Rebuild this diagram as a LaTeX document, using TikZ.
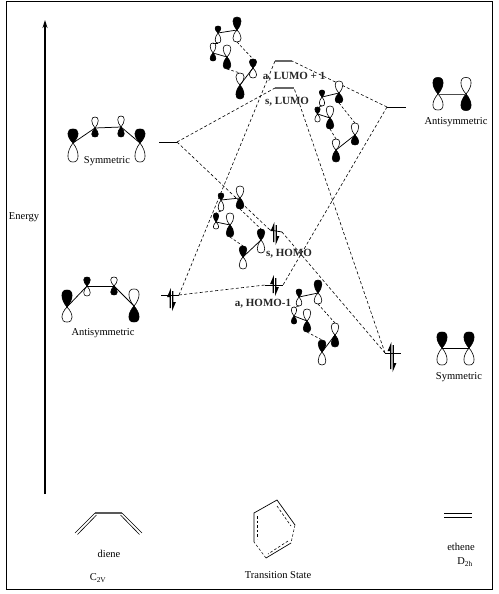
\documentclass[tikz,border=0pt]{standalone}
\usepackage{fontspec}
\usetikzlibrary{arrows.meta}
\setmainfont{Liberation Serif}
\tikzset{
  lab/.style={font=\fontsize{10.5}{12}\selectfont,inner sep=0pt},
  blab/.style={font=\fontsize{11}{12}\selectfont\bfseries,inner sep=0pt,text=black!85},
  bond/.style={line width=0.75pt},
  dbond/.style={line width=0.6pt,dash pattern=on 2.6pt off 2pt},
  level/.style={line width=0.8pt},
  tslevel/.style={line width=1.2pt,black!60},
  conn/.style={line width=0.6pt,dash pattern=on 3pt off 2.2pt},
  lobeline/.style={line width=0.6pt}
}
% name, x, y, height up, height down, half width, colour up, colour down
\newcommand{\orbpair}[8]{%
  \coordinate (#1) at (#2,#3);
  \coordinate (#1u) at (#2,{#3-#4});
  \coordinate (#1d) at (#2,{#3+#5});
  \filldraw[lobeline,fill=#7] (#1) .. controls ({#2-1.35*#6},{#3-0.45*#4}) and ({#2-1.35*#6},{#3-1.03*#4}) .. (#1u)
     .. controls ({#2+1.35*#6},{#3-1.03*#4}) and ({#2+1.35*#6},{#3-0.45*#4}) .. (#1) -- cycle;
  \filldraw[lobeline,fill=#8] (#1) .. controls ({#2-1.35*#6},{#3+0.45*#5}) and ({#2-1.35*#6},{#3+1.03*#5}) .. (#1d)
     .. controls ({#2+1.35*#6},{#3+1.03*#5}) and ({#2+1.35*#6},{#3+0.45*#5}) .. (#1) -- cycle;
}
% electron pair: x, top, bottom
\newcommand{\elecpair}[3]{%
  \fill ({#1-0.6},#2) -- ({#1-0.6},{#3-3}) -- ({#1-1.8},{#3-3}) -- ({#1-1.8},{#2+9}) -- ({#1-4.4},{#2+9}) -- cycle;
  \fill ({#1+0.6},#3) -- ({#1+0.6},{#2+3}) -- ({#1+1.8},{#2+3}) -- ({#1+1.8},{#3-9}) -- ({#1+4.4},{#3-9}) -- cycle;
}
\begin{document}
\begin{tikzpicture}[x=1pt,y=-1pt]
\useasboundingbox (0,0) rectangle (498,594);
\draw[line width=0.9pt] (6,1.5) rectangle (492.5,589);
% energy axis
\coordinate (axb) at (45,494);
\coordinate (axt) at (45,20);
\draw[line width=1.1pt,-{Stealth[length=8pt,width=5pt]}] (axb) -- (axt);
\node[lab] (energy) at (24,217) {Energy};

% connectors: energy levels
\coordinate (dl1) at (159,142); \coordinate (dl2) at (177,142);
\coordinate (dh1) at (161,295); \coordinate (dh2) at (179,295);
\coordinate (el1) at (387,107); \coordinate (el2) at (406,107);
\coordinate (eh1) at (385,353); \coordinate (eh2) at (401,353);
\coordinate (lp1) at (275,61);  \coordinate (lp2) at (292,61);
\coordinate (lu1) at (275,88);  \coordinate (lu2) at (294,88);
\coordinate (ho1) at (270,230); \coordinate (ho2) at (282,232);
\coordinate (hm1) at (265,285); \coordinate (hm2) at (283,285);
\draw[level] (dl1) -- (dl2);
\draw[level] (dh1) -- (dh2);
\draw[level] (el1) -- (el2);
\draw[level] (eh1) -- (eh2);
\draw[tslevel] (lp1) -- (lp2);
\draw[tslevel] (lu1) -- (lu2);
\draw[level] (ho1) -- (ho2);
\draw[level] (hm1) -- (hm2);
\draw[conn] (dl2) -- (lu1);
\draw[conn] (dl2) -- (ho1);
\draw[conn] (dh2) -- (hm1);
\draw[conn] (dh2) -- (lp1);
\draw[conn] (el1) -- (lp2);
\draw[conn] (el1) -- (hm2);
\draw[conn] (eh1) -- (lu2);
\draw[conn] (eh1) -- (ho2);
\elecpair{171.5}{288}{311}
\elecpair{275}{222}{245}
\elecpair{274.5}{275}{296}
\elecpair{392}{342}{372}

% diene symmetric
\orbpair{a1}{73}{143}{14}{19}{5}{black}{white}
\orbpair{a2}{95}{128}{11}{9}{3.2}{white}{black}
\orbpair{a3}{121}{127}{11}{10}{3.2}{white}{black}
\orbpair{a4}{140}{143}{14}{19}{5}{black}{white}
\draw[bond] (a1) -- (a2); \draw[bond] (a2) -- (a3); \draw[bond] (a3) -- (a4);
\node[lab] (l1) at (107,161) {Symmetric};
% diene antisymmetric
\orbpair{b1}{67}{307}{17}{15}{5}{black}{white}
\orbpair{b2}{87}{286}{9}{10}{3.2}{black}{white}
\orbpair{b3}{114}{286}{9}{9}{3.2}{white}{black}
\orbpair{b4}{134}{306}{17}{16}{5}{white}{black}
\draw[bond] (b1) -- (b2); \draw[bond] (b2) -- (b3); \draw[bond] (b3) -- (b4);
\node[lab] (l2) at (103,333) {Antisymmetric};
% ethene
\orbpair{c1}{438}{94}{16.5}{16}{5}{black}{white}
\orbpair{c2}{466}{94}{16.5}{16.5}{5}{white}{black}
\draw[bond,black!70] (c1) -- (c2);
\node[lab] (l3) at (456,122) {Antisymmetric};
\orbpair{d1}{442}{348}{16}{17}{5}{black}{white}
\orbpair{d2}{469}{348}{16}{17}{5}{black}{white}
\draw[bond] (d1) -- (d2);
\node[lab] (l4) at (459,377) {Symmetric};

% TS LUMO+1
\orbpair{e1}{237}{30}{13}{12}{4}{black}{white}
\orbpair{e2}{218}{33}{7}{10}{2.8}{black}{white}
\orbpair{e3}{213}{53}{10}{8}{2.8}{white}{black}
\orbpair{e4}{227}{57}{12}{12}{3.8}{white}{black}
\orbpair{e5}{253}{68}{9}{10}{3.5}{black}{white}
\orbpair{e6}{240}{85}{12}{14}{4}{white}{black}
\draw[bond] (e2) -- (e1); \draw[bond] (e3) -- (e4); \draw[bond] (e6) -- (e5);
\draw[dbond] (e1d) -- (e5u); \draw[dbond] (e4d) -- (e6u); \draw[dbond] (e2d) -- (e3u);
% TS LUMO
\orbpair{f1}{339}{93}{12}{10}{3.8}{white}{black}
\orbpair{f2}{322}{97}{7}{9}{2.6}{black}{white}
\orbpair{f3}{317.5}{114}{7}{8}{2.6}{black}{white}
\orbpair{f4}{330}{118}{12}{11}{3.7}{white}{black}
\orbpair{f5}{355}{135}{12}{10}{3.7}{white}{black}
\orbpair{f6}{336}{150}{11}{12}{3.7}{white}{black}
\draw[bond] (f2) -- (f1); \draw[bond] (f3) -- (f4); \draw[bond] (f6) -- (f5);
\draw[dbond] (f1d) -- (f5u); \draw[dbond] (f4d) -- (f6u); \draw[dbond] (f2d) -- (f3u);
% TS HOMO
\orbpair{g1}{240}{198}{12}{11}{3.8}{white}{black}
\orbpair{g2}{221}{200}{7}{11}{2.8}{black}{white}
\orbpair{g3}{216}{222}{9}{7}{2.6}{black}{white}
\orbpair{g4}{230}{225}{12}{12}{3.7}{white}{black}
\orbpair{g5}{261}{240}{11}{13}{3.7}{black}{white}
\orbpair{g6}{243}{257}{11}{12}{3.7}{black}{white}
\draw[bond] (g2) -- (g1); \draw[bond] (g3) -- (g4); \draw[bond] (g6) -- (g5);
\draw[dbond] (g1d) -- (g5u); \draw[dbond] (g4d) -- (g6u); \draw[dbond] (g2d) -- (g3u);
% TS HOMO-1
\orbpair{h1}{318}{293}{13}{11}{3.8}{black}{white}
\orbpair{h2}{299}{297}{8}{9}{2.8}{black}{white}
\orbpair{h3}{294}{316}{9}{8}{2.6}{white}{black}
\orbpair{h4}{307}{321}{12}{11}{3.7}{white}{black}
\orbpair{h5}{335}{335}{12}{12}{3.7}{white}{black}
\orbpair{h6}{322}{352}{12}{13}{3.8}{black}{white}
\draw[bond] (h2) -- (h1); \draw[bond] (h3) -- (h4); \draw[bond] (h6) -- (h5);
\draw[dbond] (h1d) -- (h5u); \draw[dbond] (h4d) -- (h6u); \draw[dbond] (h2d) -- (h3u);

\node[blab] (t1) at (294,77) {a, LUMO + 1};
\node[blab] (t2) at (287,102) {s, LUMO};
\node[blab] (t3) at (289,254) {s, HOMO};
\node[blab] (t4) at (263,304) {a, HOMO-1};

% bottom: diene
\coordinate (m1) at (95,513); \coordinate (m2) at (122,513);
\coordinate (m3) at (75,533); \coordinate (m4) at (142,533);
\coordinate (m1i) at (96.5,515); \coordinate (m2i) at (120.5,515);
\coordinate (m3i) at (77.5,534.5); \coordinate (m4i) at (139.5,534.5);
\draw[line width=1.2pt,black!65] (m1) -- (m2);
\draw[line width=0.6pt] (m1) -- (m3); \draw[line width=0.6pt] (m2) -- (m4);
\draw[line width=0.6pt] (m1i) -- (m3i); \draw[line width=0.6pt] (m2i) -- (m4i);
\node[lab] (n1) at (109,554) {diene};
\node[lab] (n2) at (98,578) {C\textsubscript{2V}};
% bottom: transition state
\coordinate (p1) at (254,513); \coordinate (p2) at (277,500); \coordinate (p3) at (295,525);
\coordinate (p4) at (291,543); \coordinate (p5) at (266,558); \coordinate (p6) at (254,542);
\draw[line width=0.7pt] (p6) -- (p1) -- (p2) -- (p3);
\draw[line width=0.7pt] (p4) -- (p5);
\draw[dbond,line width=0.5pt] (p3) -- (p4);
\draw[dbond,line width=0.5pt] (p5) -- (p6);
\coordinate (q1) at (257,516); \coordinate (q2) at (257,539);
\coordinate (q3) at (277,506); \coordinate (q4) at (291,526);
\coordinate (q5) at (288,541); \coordinate (q6) at (268,554);
\draw[dbond] (q1) -- (q2); \draw[dbond] (q3) -- (q4); \draw[dbond] (q5) -- (q6);
\node[lab] (n3) at (278,575) {Transition State};
% bottom: ethene
\coordinate (r1) at (444,513.7); \coordinate (r2) at (472,513.7);
\coordinate (r3) at (444,517.3); \coordinate (r4) at (472,517.3);
\draw[line width=0.8pt] (r1) -- (r2); \draw[line width=0.8pt] (r3) -- (r4);
\node[lab] (n4) at (461,547) {ethene};
\node[lab] (n5) at (465,562) {D\textsubscript{2h}};
\end{tikzpicture}
\end{document}
